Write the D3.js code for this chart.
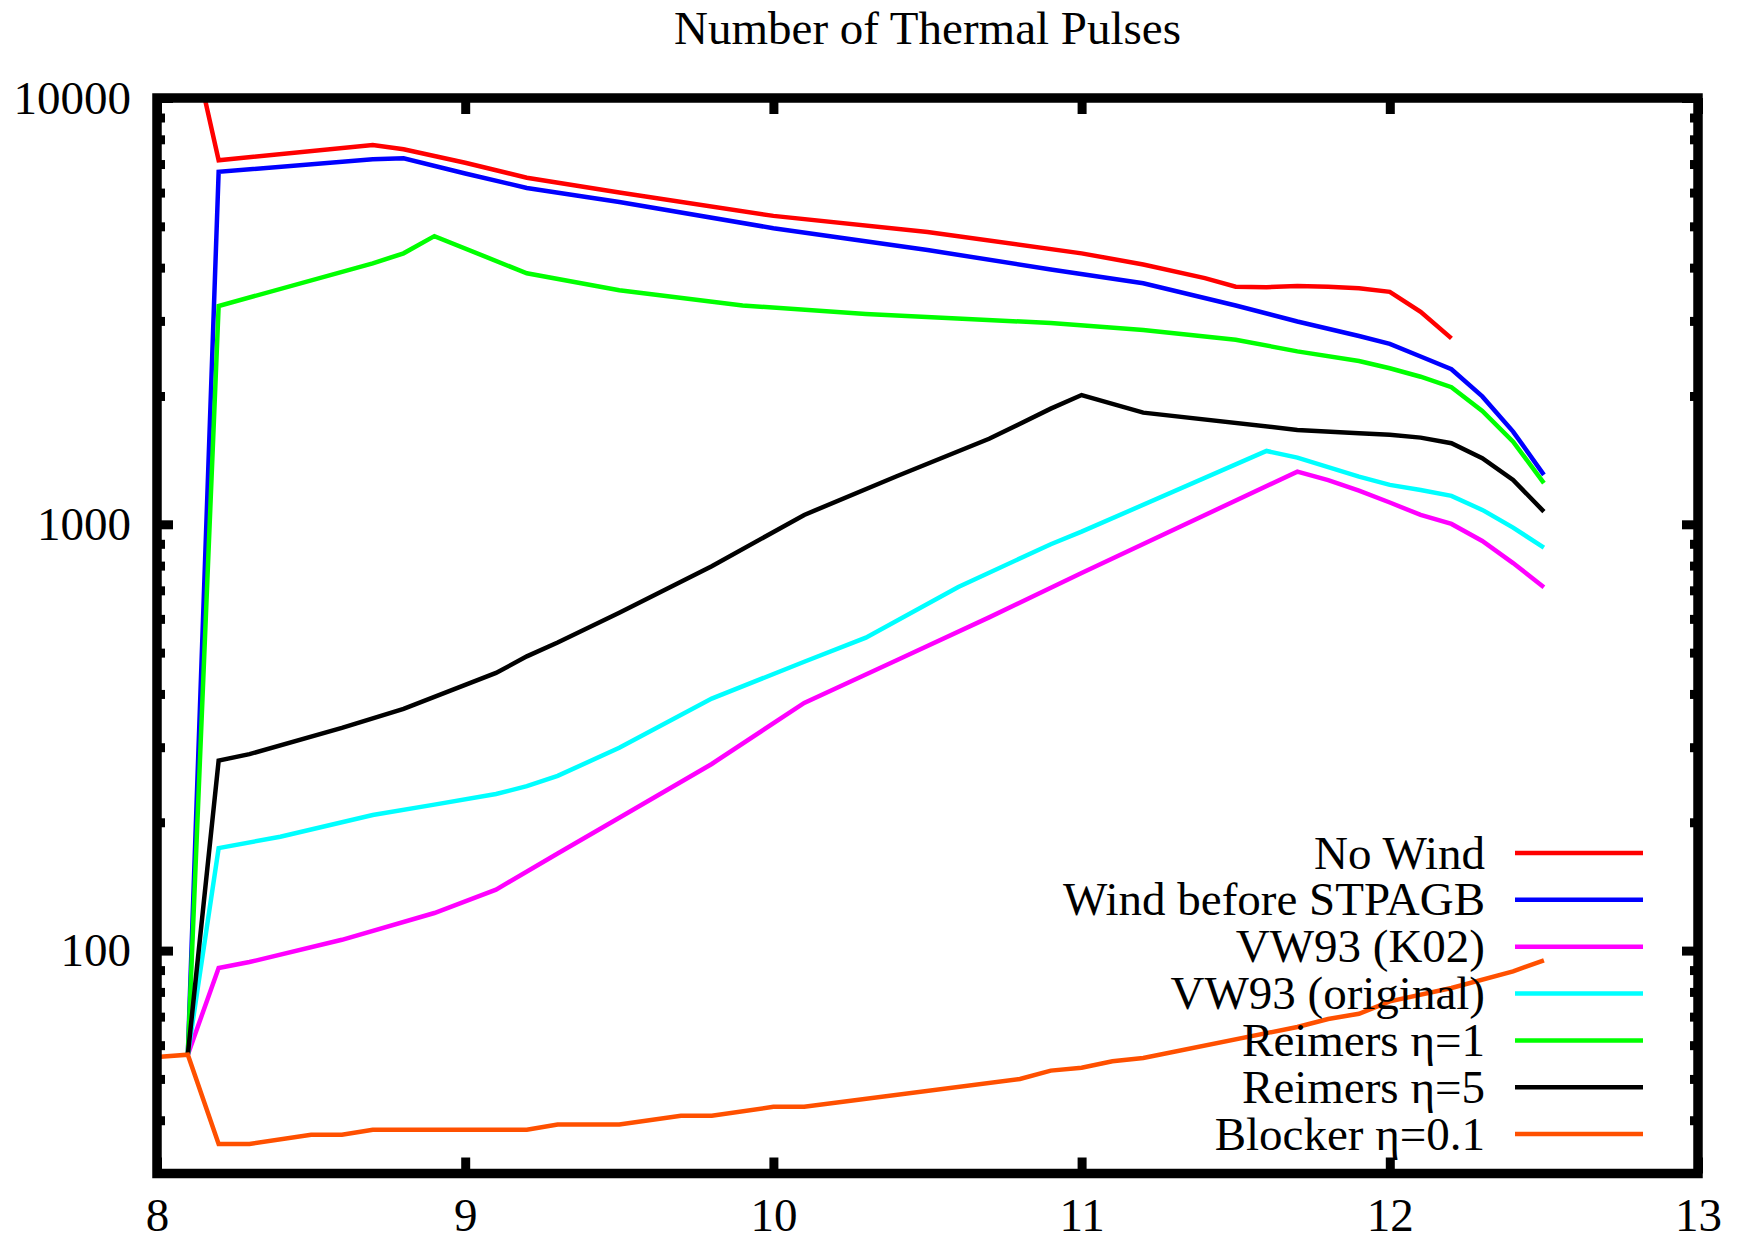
<!DOCTYPE html>
<html>
<head>
<meta charset="utf-8">
<script src="https://cdn.jsdelivr.net/npm/d3@7"></script>
<style>
  body { margin: 0; background: #fff; }
  svg { display: block; }
</style>
</head>
<body>
<svg id="chart" width="1744" height="1242"></svg>
<script>
'use strict';

// series, [initial mass, number of pulses]
const noWind = [[8.1, 15000], [8.2, 7145], [8.7, 7760], [8.8, 7580], [9.0, 7047], [9.2, 6500],
  [9.5, 6000], [10.0, 5290], [10.5, 4850], [11.0, 4320], [11.2, 4070], [11.4, 3780], [11.5, 3610],
  [11.6, 3600], [11.7, 3620], [11.8, 3610], [11.9, 3580], [12.0, 3510], [12.1, 3150], [12.2, 2730]];
const windBefore = [[8.1, 57], [8.2, 6714], [8.7, 7180], [8.8, 7218], [9.0, 6653], [9.2, 6150],
  [9.5, 5700], [10.0, 4950], [10.5, 4400], [10.9, 3960], [11.2, 3675], [11.5, 3260], [11.7, 2990],
  [11.9, 2765], [12.0, 2650], [12.1, 2475], [12.2, 2310], [12.3, 1995], [12.4, 1650], [12.5, 1306]];
const vw93k02 = [[8.1, 57], [8.2, 91], [8.3, 94], [8.6, 106], [8.9, 122.5], [9.1, 139], [9.3, 169],
  [9.5, 205], [9.8, 274], [10.1, 381], [10.4, 480], [10.7, 605], [11.0, 769], [11.7, 1329],
  [11.8, 1270], [11.9, 1200], [12.0, 1125], [12.1, 1052], [12.2, 1002], [12.3, 914], [12.4, 811], [12.5, 712]];
const vw93orig = [[8.1, 57], [8.2, 174], [8.4, 185], [8.7, 208], [8.9, 220], [9.1, 233], [9.2, 243],
  [9.3, 257], [9.5, 299], [9.8, 390], [10.1, 476], [10.3, 542], [10.6, 713], [10.9, 898], [11.0, 961],
  [11.6, 1486], [11.7, 1434], [11.9, 1294], [12.0, 1237], [12.1, 1204], [12.2, 1166], [12.3, 1081],
  [12.4, 982], [12.5, 882]];
const reimers1 = [[8.1, 57], [8.2, 3251], [8.7, 4095], [8.8, 4322], [8.9, 4742], [9.2, 3879],
  [9.5, 3540], [9.9, 3260], [10.3, 3114], [10.9, 2965], [11.2, 2857], [11.5, 2710], [11.7, 2545],
  [11.9, 2416], [12.0, 2323], [12.1, 2219], [12.2, 2097], [12.3, 1845], [12.4, 1563], [12.5, 1249]];
const reimers5 = [[8.1, 57], [8.2, 279], [8.3, 289], [8.6, 333], [8.8, 369], [9.1, 448], [9.2, 490],
  [9.3, 528], [9.5, 620], [9.8, 797], [10.1, 1052], [10.4, 1296], [10.7, 1587], [10.9, 1868],
  [11.0, 2010], [11.2, 1828], [11.7, 1665], [11.9, 1635], [12.0, 1621], [12.1, 1597], [12.2, 1549],
  [12.3, 1429], [12.4, 1271], [12.5, 1071]];
const blocker = [[8.0, 56.3], [8.1, 57], [8.2, 35.2], [8.3, 35.2], [8.5, 37], [8.6, 37], [8.7, 38],
  [9.2, 38], [9.3, 39.1], [9.5, 39.1], [9.7, 41], [9.8, 41], [10.0, 43], [10.1, 43], [10.8, 50],
  [10.9, 52.3], [11.0, 53.1], [11.1, 55], [11.2, 56], [11.7, 66.2], [11.8, 69.1], [11.9, 71.1],
  [12.0, 76], [12.2, 81.7], [12.4, 89.4], [12.5, 94.9]];

const seriesNames = ['No Wind', 'Wind before STPAGB', 'VW93 (K02)', 'VW93 (original)',
  'Reimers \u03b7=1', 'Reimers \u03b7=5', 'Blocker \u03b7=0.1'];
const seriesData = [noWind, windBefore, vw93k02, vw93orig, reimers1, reimers5, blocker];
const seriesColors = ['#ff0000', '#0000ff', '#ff00ff', '#00ffff', '#00ff00', '#000000', '#ff5000'];

const xTicks = [8, 9, 10, 11, 12, 13];
const yTicks = [100, 1000, 10000];
const yMinorTicks = [40, 50, 60, 70, 80, 90, 200, 300, 400, 500, 600, 700, 800, 900,
  2000, 3000, 4000, 5000, 6000, 7000, 8000, 9000];
const titleText = 'Number of Thermal Pulses';

const fontFamily = '"Liberation Serif", "Times New Roman", Times, serif';
const fontSize = 47;

const margin = { top: 98, left: 157, right: 46, bottom: 68.5 };
const width = 1744 - margin.left - margin.right;
const height = 1242 - margin.top - margin.bottom;

const svg = d3.select('#chart');
const chart = svg.append('g')
  .attr('transform', `translate(${margin.left}, ${margin.top})`);

const xScale = d3.scaleLinear().domain([8, 13]).range([0, width]);
const yScale = d3.scaleLog().domain([30, 10000]).range([height, 0]);

chart.append('clipPath')
  .attr('id', 'plotclip')
  .append('rect')
  .attr('width', width)
  .attr('height', height);

// title
svg.append('text')
  .attr('x', margin.left + width / 2)
  .attr('y', 44)
  .attr('text-anchor', 'middle')
  .attr('font-family', fontFamily)
  .attr('font-size', fontSize)
  .text(titleText);

// data lines
const line = d3.line()
  .x(function (d) { return xScale(d[0]); })
  .y(function (d) { return yScale(d[1]); });

const lines = chart.append('g').attr('clip-path', 'url(#plotclip)');
seriesData.forEach(function (data, i) {
  lines.append('path')
    .datum(data)
    .attr('fill', 'none')
    .attr('stroke', seriesColors[i])
    .attr('stroke-width', 4.5)
    .attr('stroke-linejoin', 'miter')
    .attr('d', line);
});

// axes, ticks pointing inward
function styleAxis(g) {
  g.select('.domain').remove();
  g.selectAll('.tick line').attr('stroke', '#000').attr('stroke-width', 9);
  g.selectAll('.tick text')
    .attr('font-family', fontFamily)
    .attr('font-size', fontSize)
    .attr('fill', '#000');
}

chart.append('g')
  .attr('transform', `translate(0, ${height})`)
  .call(d3.axisBottom(xScale).tickValues(xTicks).tickFormat(d3.format('d'))
    .tickSize(-16).tickPadding(24))
  .call(styleAxis);

chart.append('g')
  .call(d3.axisTop(xScale).tickValues(xTicks).tickFormat('').tickSize(-16))
  .call(styleAxis);

chart.append('g')
  .call(d3.axisLeft(yScale).tickValues(yTicks).tickFormat(d3.format('d'))
    .tickSize(-16).tickPadding(26))
  .call(styleAxis);

chart.append('g')
  .call(d3.axisLeft(yScale).tickValues(yMinorTicks).tickFormat('').tickSize(-8))
  .call(styleAxis);

chart.append('g')
  .attr('transform', `translate(${width}, 0)`)
  .call(d3.axisRight(yScale).tickValues(yTicks).tickFormat('').tickSize(-16))
  .call(styleAxis);

chart.append('g')
  .attr('transform', `translate(${width}, 0)`)
  .call(d3.axisRight(yScale).tickValues(yMinorTicks).tickFormat('').tickSize(-8))
  .call(styleAxis);

// frame
chart.append('rect')
  .attr('width', width)
  .attr('height', height)
  .attr('fill', 'none')
  .attr('stroke', '#000')
  .attr('stroke-width', 9.5);

// legend
const legendTop = 853;
const legendStep = 46.85;
const legend = svg.append('g');
seriesNames.forEach(function (name, i) {
  const y = legendTop + i * legendStep;
  legend.append('text')
    .attr('x', 1485)
    .attr('y', y)
    .attr('dy', '0.33em')
    .attr('text-anchor', 'end')
    .attr('font-family', fontFamily)
    .attr('font-size', fontSize)
    .text(name);
  legend.append('line')
    .attr('x1', 1515)
    .attr('x2', 1643)
    .attr('y1', y)
    .attr('y2', y)
    .attr('stroke', seriesColors[i])
    .attr('stroke-width', 4.5);
});
</script>
</body>
</html>
